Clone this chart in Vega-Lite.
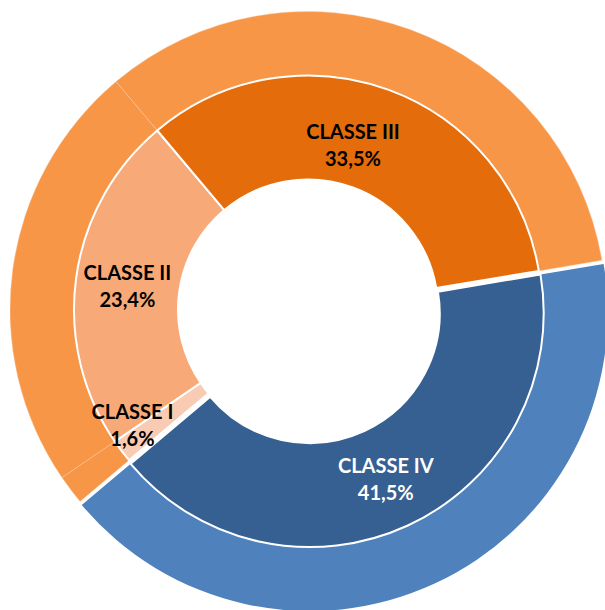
{
  "$schema": "https://vega.github.io/schema/vega-lite/v6.json",
  "width": 605,
  "height": 610,
  "autosize": {"type": "fit", "contains": "padding"},
  "padding": 0,
  "background": "white",
  "config": {
    "view": {"stroke": null},
    "locale": {"number": {"decimal": ",", "thousands": ".", "grouping": [3], "currency": ["", " €"]}}
  },
  "data": {
    "values": [
      {"classe": "CLASSE I", "share": 0.016},
      {"classe": "CLASSE II", "share": 0.234},
      {"classe": "CLASSE III", "share": 0.335},
      {"classe": "CLASSE IV", "share": 0.415}
    ]
  },
  "layer": [
    {
      "transform": [
        {"stack": "share", "groupby": [], "sort": [{"field": "classe", "order": "ascending"}], "as": ["t0", "t1"]},
        {"filter": "datum.classe !== 'CLASSE IV'"}
      ],
      "mark": {"type": "arc", "outerRadius": 298, "innerRadius": 234, "color": "#F79646", "stroke": "#FBD0AE", "strokeWidth": 0.4, "xOffset": 8.5, "yOffset": 6},
      "encoding": {
        "theta": {"field": "t0", "type": "quantitative", "scale": {"domain": [0, 1], "range": [4.0125, 10.2957]}},
        "theta2": {"field": "t1"}
      }
    },
    {
      "transform": [
        {"stack": "share", "groupby": [], "sort": [{"field": "classe", "order": "ascending"}], "as": ["t0", "t1"]},
        {"filter": "datum.classe === 'CLASSE IV'"}
      ],
      "mark": {"type": "arc", "outerRadius": 298, "innerRadius": 234, "color": "#4F81BD", "xOffset": 10.2, "yOffset": 9.6},
      "encoding": {
        "theta": {"field": "t0", "type": "quantitative", "scale": {"domain": [0, 1], "range": [4.0125, 10.2957]}},
        "theta2": {"field": "t1"}
      }
    },
    {
      "transform": [
        {"stack": "share", "groupby": [], "sort": [{"field": "classe", "order": "ascending"}], "as": ["t0", "t1"]},
        {"filter": "datum.classe !== 'CLASSE IV'"}
      ],
      "mark": {"type": "arc", "outerRadius": 234, "innerRadius": 130, "stroke": "white", "strokeWidth": 2, "xOffset": 8.5, "yOffset": 6},
      "encoding": {
        "theta": {"field": "t0", "type": "quantitative", "scale": {"domain": [0, 1], "range": [4.0125, 10.2957]}},
        "theta2": {"field": "t1"},
        "color": {"field": "classe", "type": "nominal", "legend": null,
          "scale": {"domain": ["CLASSE I", "CLASSE II", "CLASSE III", "CLASSE IV"], "range": ["#F9CBB2", "#F7AA78", "#E46C0A", "#366092"]}}
      }
    },
    {
      "transform": [
        {"stack": "share", "groupby": [], "sort": [{"field": "classe", "order": "ascending"}], "as": ["t0", "t1"]},
        {"filter": "datum.classe === 'CLASSE IV'"}
      ],
      "mark": {"type": "arc", "outerRadius": 234, "innerRadius": 130, "stroke": "white", "strokeWidth": 2, "xOffset": 10.2, "yOffset": 9.6},
      "encoding": {
        "theta": {"field": "t0", "type": "quantitative", "scale": {"domain": [0, 1], "range": [4.0125, 10.2957]}},
        "theta2": {"field": "t1"},
        "color": {"field": "classe", "type": "nominal", "legend": null,
          "scale": {"domain": ["CLASSE I", "CLASSE II", "CLASSE III", "CLASSE IV"], "range": ["#F9CBB2", "#F7AA78", "#E46C0A", "#366092"]}}
      }
    },
    {
      "mark": {"type": "text", "radius": 182, "font": "Lato", "fontWeight": "bold", "fontSize": 20, "align": "center", "baseline": "middle", "xOffset": 8.2, "yOffset": 5.7,
        "dx": {"expr": "datum.classe === 'CLASSE III' ? -17.6 : datum.classe === 'CLASSE I' ? -30.3 : datum.classe === 'CLASSE IV' ? 1.7 : 0"},
        "dy": {"expr": "(datum.classe === 'CLASSE III' ? 5.3 : datum.classe === 'CLASSE I' ? 4.7 : datum.classe === 'CLASSE IV' ? 3.6 : 0) - 11"}},
      "encoding": {
        "theta": {"field": "share", "type": "quantitative", "stack": true, "scale": {"domain": [0, 1], "range": [4.0125, 10.2957]}},
        "order": {"field": "classe"},
        "text": {"field": "classe"},
        "color": {"condition": {"test": "datum.classe === 'CLASSE IV'", "value": "white"}, "value": "black"}
      }
    },
    {
      "mark": {"type": "text", "radius": 182, "font": "Lato", "fontWeight": "bold", "fontSize": 20, "align": "center", "baseline": "middle", "xOffset": 8.2, "yOffset": 5.7,
        "dx": {"expr": "datum.classe === 'CLASSE III' ? -17.6 : datum.classe === 'CLASSE I' ? -30.3 : datum.classe === 'CLASSE IV' ? 1.7 : 0"},
        "dy": {"expr": "(datum.classe === 'CLASSE III' ? 5.3 : datum.classe === 'CLASSE I' ? 4.7 : datum.classe === 'CLASSE IV' ? 3.6 : 0) + 16"}},
      "encoding": {
        "theta": {"field": "share", "type": "quantitative", "stack": true, "scale": {"domain": [0, 1], "range": [4.0125, 10.2957]}},
        "order": {"field": "classe"},
        "text": {"field": "share", "type": "quantitative", "format": ".1%"},
        "color": {"condition": {"test": "datum.classe === 'CLASSE IV'", "value": "white"}, "value": "black"}
      }
    }
  ]
}
